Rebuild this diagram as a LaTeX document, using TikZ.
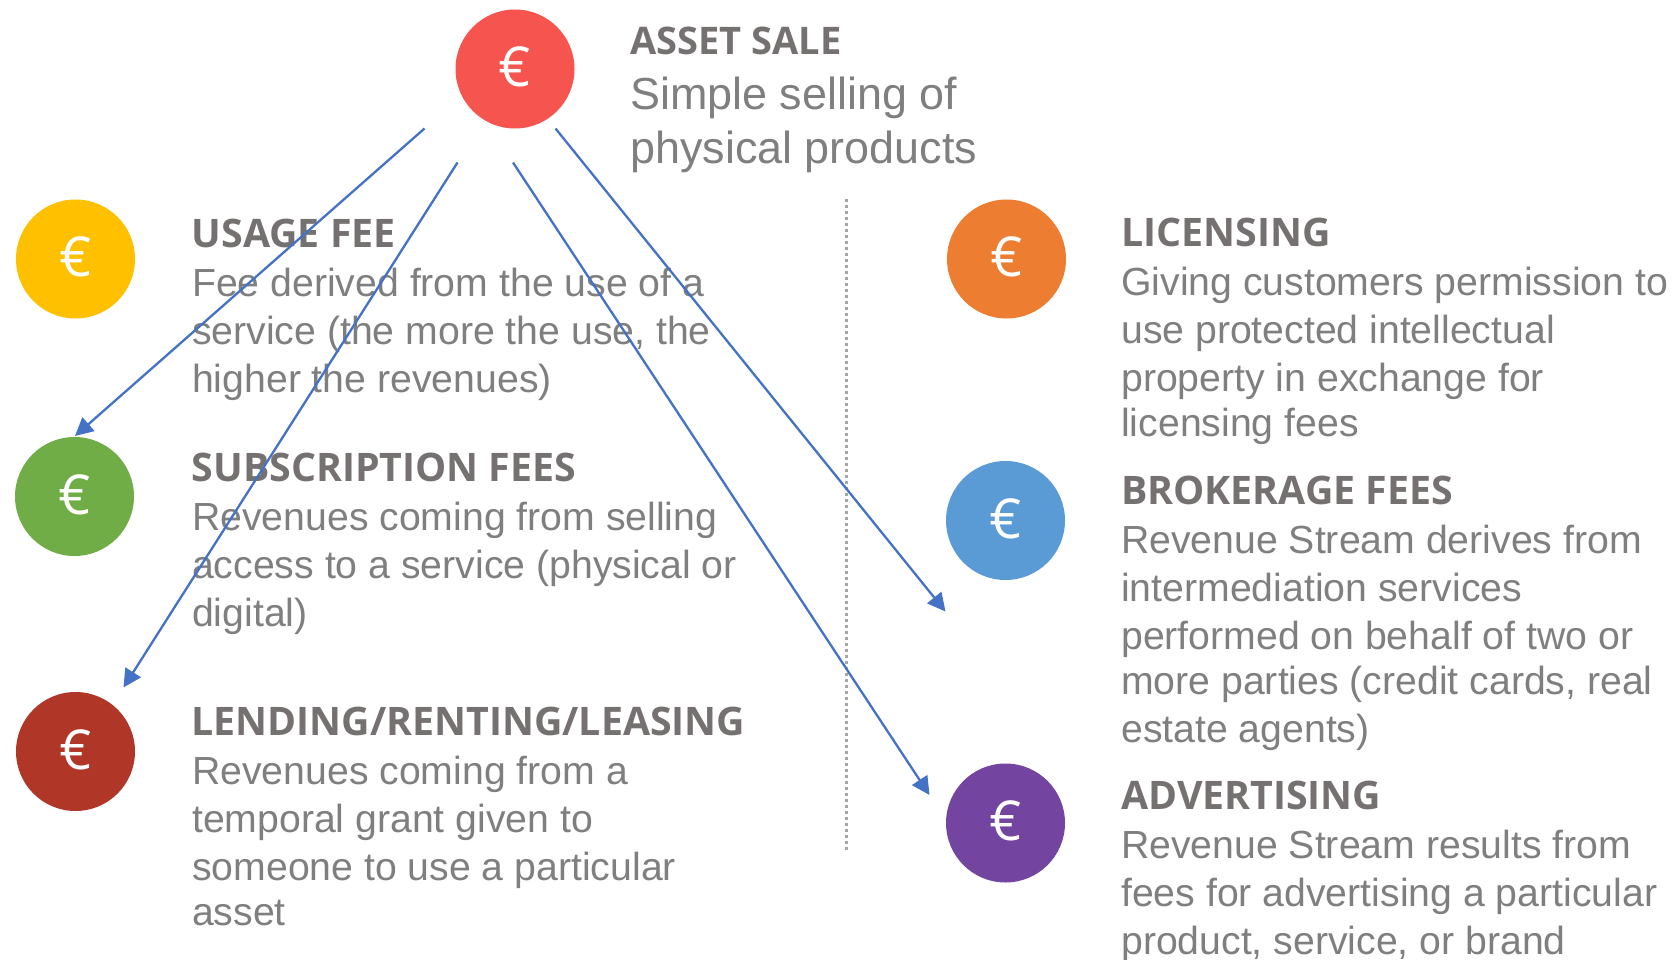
\documentclass[tikz,border=0pt]{standalone}
\usepackage{fontspec}
\setmainfont{Liberation Sans}
\newfontfamily\headfont{Open Sans}
\usetikzlibrary{arrows.meta}
\definecolor{headgray}{HTML}{767171}
\definecolor{bodygray}{HTML}{7F7F7F}
\definecolor{arrowblue}{HTML}{4472C4}
\definecolor{dotgray}{HTML}{A6A6A6}
\definecolor{cAsset}{HTML}{F6544F}
\definecolor{cUsage}{HTML}{FFC000}
\definecolor{cSub}{HTML}{70AD47}
\definecolor{cLend}{HTML}{B03627}
\definecolor{cLic}{HTML}{ED7D31}
\definecolor{cBrok}{HTML}{5B9BD5}
\definecolor{cAdv}{HTML}{7445A0}
\tikzset{
  coin/.style={circle,fill=#1,minimum size=119pt,inner sep=0pt,text=white,
    text depth=0pt,font=\headfont\fontsize{56}{56}\selectfont},
  coinsign/.style={inner sep=0pt,text=white,font=\headfont\fontsize{55}{55}\selectfont},
  headtxt/.style={anchor=base west,inner sep=0pt,text=headgray,
    font=\headfont\bfseries\fontsize{39.3}{39.3}\selectfont},
  headsmall/.style={headtxt,font=\headfont\bfseries\fontsize{38}{38}\selectfont},
  bodytxt/.style={anchor=base west,inner sep=0pt,text=bodygray,
    font=\fontsize{39.2}{39.2}\selectfont},
  bigtxt/.style={anchor=base west,inner sep=0pt,text=bodygray,
    font=\fontsize{44.9}{44.9}\selectfont},
  flow/.style={draw=arrowblue,line width=2.3pt,-{Triangle[length=18pt,width=18pt]}},
  divider/.style={draw=dotgray,line width=3pt,dash pattern=on 3pt off 3pt}
}
\begin{document}
\begin{tikzpicture}[x=1pt,y=-1pt]
\useasboundingbox (0,0) rectangle (1680,960);
\fill[white] (0,0) rectangle (1680,960);
% coins
\node[coin=cAsset] (asset) at (515,69) {};
\node[coin=cUsage] (usage) at (75.5,259) {};
\node[coin=cSub] (sub) at (74.5,496.5) {};
\node[coin=cLend] (lend) at (75.5,751.5) {};
\node[coin=cLic] (lic) at (1006.5,259) {};
\node[coin=cBrok] (brok) at (1005.5,520.5) {};
\node[coin=cAdv] (adv) at (1005.5,823) {};
\node[coinsign] (e1) at (515,67) {€};
\node[coinsign] (e2) at (75.5,257) {€};
\node[coinsign] (e3) at (74.5,494.5) {€};
\node[coinsign] (e4) at (75.5,749.5) {€};
\node[coinsign] (e5) at (1006.5,257) {€};
\node[coinsign] (e6) at (1005.5,518.5) {€};
\node[coinsign] (e7) at (1005.5,821) {€};
% asset sale
\node[headsmall] (h1) at (630,55) {ASSET SALE};
\node[bigtxt] (a1) at (630,110) {Simple selling of};
\node[bigtxt] (a2) at (630,164) {physical products};
% usage
\node[headtxt] (h2) at (191.5,247.5) {USAGE FEE};
\node[bodytxt] (u1) at (192,296) {Fee derived from the use of a};
\node[bodytxt] (u2) at (192,344) {service (the more the use, the};
\node[bodytxt] (u3) at (192,392) {higher the revenues)};
% subscription
\node[headtxt] (h3) at (191.5,481.5) {SUBSCRIPTION FEES};
\node[bodytxt] (s1) at (192,530) {Revenues coming from selling};
\node[bodytxt] (s2) at (192,578) {access to a service (physical or};
\node[bodytxt] (s3) at (192,626) {digital)};
% lending
\node[headtxt] (h4) at (191.5,735.5) {LENDING/RENTING/LEASING};
\node[bodytxt] (l1) at (192,784) {Revenues coming from a};
\node[bodytxt] (l2) at (192,832) {temporal grant given to};
\node[bodytxt] (l3) at (192,880) {someone to use a particular};
\node[bodytxt] (l4) at (192,925) {asset};
% licensing
\node[headtxt] (h5) at (1121,246.5) {LICENSING};
\node[bodytxt] (c1) at (1121,295) {Giving customers permission to};
\node[bodytxt] (c2) at (1121,343) {use protected intellectual};
\node[bodytxt] (c3) at (1121,391) {property in exchange for};
\node[bodytxt] (c4) at (1121,436.5) {licensing fees};
% brokerage
\node[headtxt] (h6) at (1121,504.5) {BROKERAGE FEES};
\node[bodytxt] (b1) at (1121,553) {Revenue Stream derives from};
\node[bodytxt] (b2) at (1121,601) {intermediation services};
\node[bodytxt] (b3) at (1121,649) {performed on behalf of two or};
\node[bodytxt] (b4) at (1121,694.5) {more parties (credit cards, real};
\node[bodytxt] (b5) at (1121,742.5) {estate agents)};
% advertising
\node[headtxt] (h7) at (1121,809.5) {ADVERTISING};
\node[bodytxt] (v1) at (1121,858) {Revenue Stream results from};
\node[bodytxt] (v2) at (1121,906) {fees for advertising a particular};
\node[bodytxt] (v3) at (1121,954) {product, service, or brand};
% divider
\coordinate (dtop) at (846.5,199);
\coordinate (dbot) at (846.5,851);
\draw[divider] (dtop) -- (dbot);
% connector ends
\coordinate (sA) at (424.5,128.5);
\coordinate (eA) at (75,436);
\coordinate (sB) at (457.5,162.5);
\coordinate (eB) at (123.5,687.5);
\coordinate (sC) at (513,162.5);
\coordinate (eC) at (929.5,795);
\coordinate (sD) at (555.5,128.5);
\coordinate (eD) at (945.5,611.5);
\draw[flow] (sA) -- (eA);
\draw[flow] (sB) -- (eB);
\draw[flow] (sC) -- (eC);
\draw[flow] (sD) -- (eD);
\end{tikzpicture}
\end{document}
